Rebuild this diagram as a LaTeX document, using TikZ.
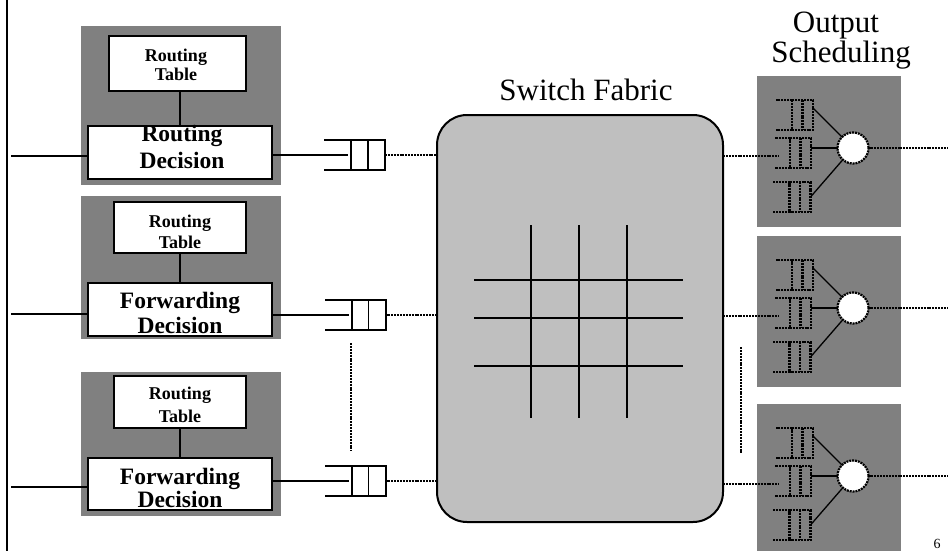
\documentclass[tikz,border=0pt]{standalone}
\usepackage{fontspec}
\setmainfont{Liberation Serif}
\begin{document}
\begin{tikzpicture}[x=1pt,y={(0pt,-1pt)},
  line width=1.8pt,
  panel/.style={fill=black!50, inner sep=0pt, outer sep=0pt},
  tablebox/.style={draw, fill=white, line width=1.8pt, inner sep=0pt, outer sep=0pt},
  decbox/.style={draw, fill=white, line width=2pt, inner sep=0pt, outer sep=0pt,
    minimum width=184pt},
  smalllbl/.style={font=\fontsize{18}{20}\selectfont\bfseries, anchor=base, inner sep=0pt},
  biglbl/.style={font=\fontsize{23.5}{26}\selectfont\bfseries, anchor=base, inner sep=0pt},
  link/.style={line width=1.8pt},
  thinlink/.style={line width=1.3pt},
  dotline/.style={line width=2.2pt, dash pattern=on 2pt off 0.9pt},
  qcell/.style={draw, line width=2pt, inner sep=0pt, outer sep=0pt,
    minimum width=34pt, minimum height=30pt},
  oq/.style={draw, dotline, inner sep=0pt, outer sep=0pt,
    minimum width=21pt, minimum height=30pt},
  sched/.style={circle, draw, dotline, fill=white, inner sep=0pt, outer sep=0pt,
    minimum size=31pt},
  fabric/.style={draw, fill=black!25, line width=2pt, rounded corners=30pt,
    inner sep=0pt, outer sep=0pt, minimum width=286pt, minimum height=407pt},
  title/.style={font=\fontsize{31}{34}\selectfont, anchor=base, inner sep=0pt}
]
\useasboundingbox (0,0) rectangle (948,551);

% left border rule
\coordinate (lt) at (7,0);
\coordinate (lb) at (7,551);
\draw[line width=2pt] (lt) -- (lb);

% ---------- input ports ----------
\node[panel, minimum width=200pt, minimum height=159pt] (p1) at (181,105.5) {};
\node[panel, minimum width=200pt, minimum height=143pt] (p2) at (181,267.5) {};
\node[panel, minimum width=200pt, minimum height=144pt] (p3) at (181,444) {};

\node[tablebox, minimum width=137pt, minimum height=55pt] (t1) at (177.5,63.5) {};
\node[tablebox, minimum width=132pt, minimum height=51pt] (t2) at (180,227.5) {};
\node[tablebox, minimum width=132pt, minimum height=52pt] (t3) at (180,402) {};

\node[decbox, minimum height=53pt] (d1) at (180,152.5) {};
\node[decbox, minimum height=53pt] (d2) at (180,309.5) {};
\node[decbox, minimum height=52pt] (d3) at (180,484) {};

\draw[link] (d1.north) -- (d1.north |- t1.south);
\draw[link] (d2.north) -- (d2.north |- t2.south);
\draw[link] (d3.north) -- (d3.north |- t3.south);

\node[smalllbl] (t1a) at (176,62) {Routing};
\node[smalllbl] (t1b) at (176,81) {Table};
\node[smalllbl] (t2a) at (180,227) {Routing};
\node[smalllbl] (t2b) at (180,248) {Table};
\node[smalllbl] (t3a) at (180,399) {Routing};
\node[smalllbl] (t3b) at (180,422) {Table};

\node[biglbl] (d1a) at (182,141) {Routing};
\node[biglbl] (d1b) at (182,168) {Decision};
\node[biglbl] (d2a) at (180,308) {Forwarding};
\node[biglbl] (d2b) at (180,333) {Decision};
\node[biglbl] (d3a) at (180,484) {Forwarding};
\node[biglbl] (d3b) at (180,507) {Decision};

\coordinate (i1) at (11,156);
\coordinate (i2) at (11,314);
\coordinate (i3) at (11,487);
\draw[link] (i1) -- (i1 -| d1.west);
\draw[link] (i2) -- (i2 -| d2.west);
\draw[link] (i3) -- (i3 -| d3.west);

% ---------- input queues ----------
\node[qcell] (q1) at (368,155) {};
\node[qcell] (q2) at (368.5,315) {};
\node[qcell] (q3) at (368.5,481) {};
\foreach \q/\d in {q1/d1,q2/d2,q3/d3}{
  \draw[link] (\q.north west) -- ++(-27,0);
  \draw[link] (\q.south west) -- ++(-27,0);
  \draw[link] (\q.north) -- (\q.south);
  \draw[link] (\d.east |- \q.west) -- ([xshift=-3pt]\q.west);
}
\coordinate (vl1) at (351,343);
\coordinate (vl2) at (351,451);
\draw[dotline] (vl1) -- (vl2);

% ---------- switch fabric ----------
\node[fabric] (fab) at (580,318.5) {};
\foreach \q in {q1,q2,q3}
  \draw[dotline] (\q.east) -- (\q.east -| fab.west);
\foreach \x in {531,579,627}
  \draw[line width=1.6pt] (\x,225) -- (\x,418);
\foreach \y in {280,318,366}
  \draw[line width=1.6pt] (474,\y) -- (683,\y);
\node[title] (sf) at (586,100) {Switch Fabric};

\coordinate (vr1) at (741,347);
\coordinate (vr2) at (741,454);
\draw[dotline] (vr1) -- (vr2);

% ---------- output scheduling ----------
\node[title] (os1) at (836,33) {Output};
\node[title] (os2) at (841,63) {Scheduling};

\foreach \k/\T in {1/76,2/236,3/404}{
  \node[panel, minimum width=144pt, minimum height=151pt] (op\k) at (829,\T+75.5) {};
  \node[oq] (oqa\k) at (802.5,\T+39) {};
  \node[oq] (oqb\k) at (800.5,\T+77) {};
  \node[oq] (oqc\k) at (800,\T+121) {};
  \draw[dotline] (oqa\k.north west) -- ++(-17,0);
  \draw[dotline] (oqa\k.south west) -- ++(-17,0);
  \draw[dotline] (oqb\k.north west) -- ++(-15,0);
  \draw[dotline] (oqb\k.south west) -- ++(-15,0);
  \draw[dotline] (oqc\k.north west) -- ++(-17,0);
  \draw[dotline] (oqc\k.south west) -- ++(-17,0);
  \draw[dotline] (oqa\k.north) -- (oqa\k.south);
  \draw[dotline] (oqb\k.north) -- (oqb\k.south);
  \draw[dotline] (oqc\k.north) -- (oqc\k.south);
  \node[sched] (sc\k) at (853,\T+72) {};
  \draw[thinlink] ([yshift=7pt]oqa\k.east) -- (sc\k);
  \draw[thinlink] (oqb\k.east |- sc\k.west) -- (sc\k.west);
  \draw[thinlink] (oqc\k.east) -- (sc\k);
  \coordinate (oin\k) at (779,\T+80);
  \draw[dotline] (oin\k -| fab.east) -- (oin\k);
  \coordinate (oout\k) at (948,\T+72);
  \draw[dotline] (sc\k.east) -- (oout\k);
}

% page number
\node[font=\fontsize{14}{16}\selectfont, anchor=north, inner sep=0pt] (pg) at (937,538) {6};
\end{tikzpicture}
\end{document}
